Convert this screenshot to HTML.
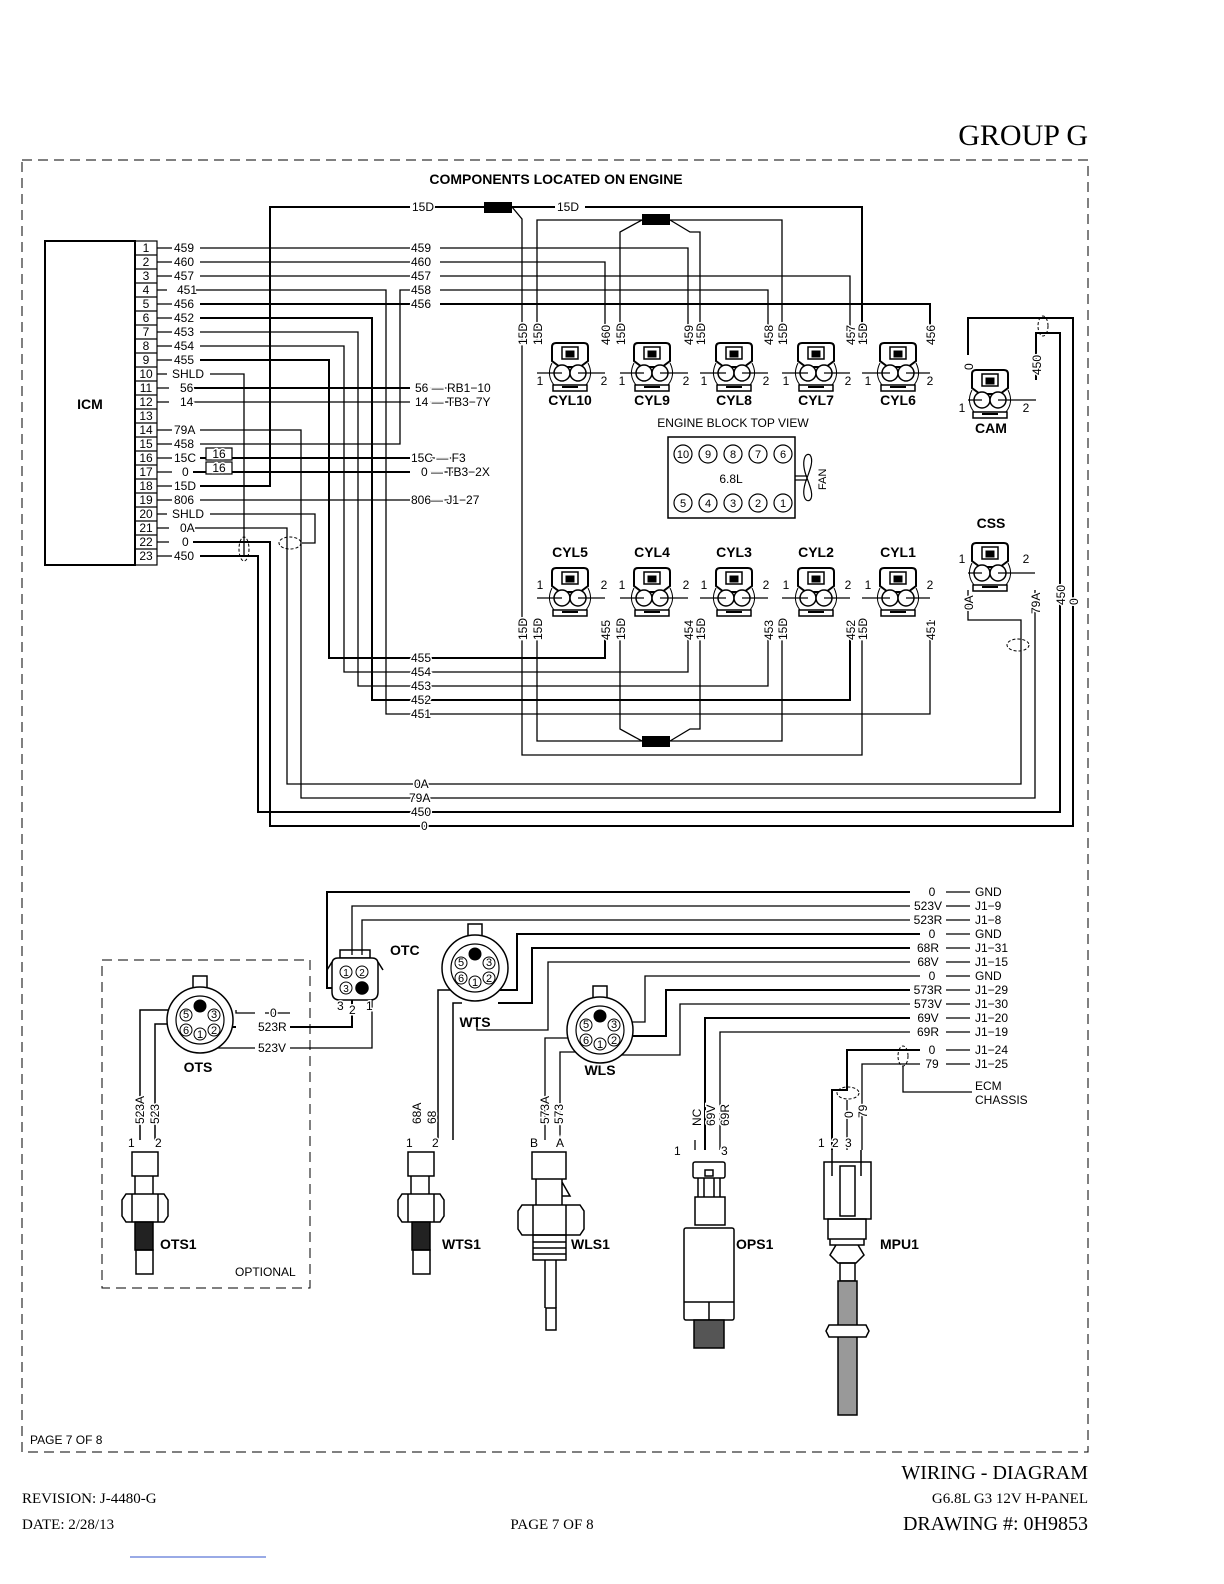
<!DOCTYPE html>
<html><head><meta charset="utf-8"><style>
html,body{margin:0;padding:0;background:#fff;width:1224px;height:1584px;overflow:hidden}
svg{display:block}
text{font-family:"Liberation Sans",sans-serif;fill:#000}
.s{font-size:12px;stroke:#fff;stroke-width:3px;paint-order:stroke fill}
.b{font-size:14px;font-weight:bold}
.sf{font-family:"Liberation Serif",serif}
</style></head><body>
<svg width="1224" height="1584" viewBox="0 0 1224 1584" xmlns="http://www.w3.org/2000/svg">
<defs>
<g id="cn" fill="none" stroke="#000">
 <path d="M-18,-2 Q-24,10 -16,20 M18,-2 Q24,10 16,20" stroke-width="1"/>
 <path d="M-14,-22 h28 q4,0 4,4 v14 l-8,6 h-20 l-8,-6 v-14 q0,-4 4,-4z" stroke-width="2" fill="#fff"/>
 <rect x="-8" y="-18" width="16" height="12" stroke-width="1.5"/>
 <rect x="-4" y="-14" width="8" height="6" fill="#000"/>
 <circle cx="-8" cy="8" r="8" stroke-width="1.5" fill="#fff"/>
 <circle cx="8" cy="8" r="8" stroke-width="1.5" fill="#fff"/>
 <path d="M-17,20 h34 v6 h-34z" stroke-width="1.5"/>
 <path d="M-8,22 h16" stroke-width="2"/>
</g>
<g id="rc" fill="none" stroke="#000">
 <rect x="-7" y="-44" width="14" height="12" stroke-width="1.5" fill="#fff"/>
 <circle r="33" stroke-width="1.5" fill="#fff"/>
 <circle r="24" stroke-width="1.2"/>
 <circle cx="0" cy="-14" r="6" fill="#000"/>
 <circle cx="-14" cy="-5" r="6" stroke-width="1"/><circle cx="14" cy="-5" r="6" stroke-width="1"/>
 <circle cx="-14" cy="10" r="6" stroke-width="1"/><circle cx="14" cy="10" r="6" stroke-width="1"/>
 <circle cx="0" cy="14" r="6" stroke-width="1"/>
</g>
</defs>
<text x="1088" y="145" text-anchor="end" class="sf" font-size="30">GROUP G</text>
<rect x="22" y="160" width="1066" height="1292" fill="none" stroke="#000" stroke-width="1" stroke-dasharray="10,6"/>
<text x="556" y="184" text-anchor="middle" class="b">COMPONENTS LOCATED ON ENGINE</text>

<!-- ICM -->
<rect x="45" y="241" width="90" height="324" fill="none" stroke="#000" stroke-width="2"/>
<text x="90" y="409" text-anchor="middle" class="b">ICM</text>
<g fill="none" stroke="#000" stroke-width="1.2">
<rect x="135" y="241" width="22" height="324"/>
<path d="M135,255h22M135,269h22M135,283h22M135,297h22M135,311h22M135,325h22M135,339h22M135,353h22M135,367h22M135,381h22M135,395h22M135,409h22M135,423h22M135,437h22M135,451h22M135,465h22M135,479h22M135,493h22M135,507h22M135,521h22M135,535h22M135,549h22"/>
</g>
<g fill="none" stroke="#000" stroke-width="1.2">
<path d="M157,248h15M157,262h15M157,276h15M157,290h10M157,304h15M157,318h15M157,332h15M157,346h15M157,360h15M157,374h10M157,388h12M157,402h12M157,430h15M157,444h15M157,458h15M157,472h15M157,486h15M157,500h15M157,514h10M157,528h12M157,542h12M157,556h15"/>
</g>
<!-- top wires -->
<g stroke="#000" stroke-width="1.3" fill="none">
<path d="M200,248H410M440,248H688V340"/>
<path d="M200,262H410M440,262H605V340"/>
<path d="M200,276H410M440,276H850V340"/>
<path d="M193,290H386V714H930V620"/>
<path d="M440,290H768V340M410,290H400V444H200"/>
<path d="M200,304H410M440,304H930V340" stroke-width="2"/>
<path d="M200,318H372V700H850V620" stroke-width="2"/>
<path d="M200,332H358V686H768V620"/>
<path d="M200,346H344V672H688V620"/>
<path d="M200,360H329V658H605V620" stroke-width="2"/>
<path d="M210,374H244V556"/>
<path d="M193,388H410" stroke-width="2"/>
<path d="M193,402H410"/>
<path d="M200,430H301V798H1035V590"/>
<path d="M200,458H410" stroke-width="2"/>
<path d="M193,472H410" stroke-width="2"/>
<path d="M200,486H270V207H410M432,207H484M512,207H555M585,207H862V340" stroke-width="2"/>
<path d="M200,500H410"/>
<path d="M210,514H315V543H302"/>
<path d="M195,528H287V784H1021V620H968V590"/>
<path d="M193,542H270V826H1073V318H968V355" stroke-width="2"/>
<path d="M200,556H258V812H1060V333H1036V380" stroke-width="2"/>
<path d="M512,207l10,12V755H862V620"/>
<path d="M537,340V220H642M670,220H782V340"/>
<path d="M642,220l-22,12V340M670,220l20,12H700V340"/>
<path d="M537,620V741H642M670,741H782V620"/>
<path d="M642,741l-22,-12V620M670,741l20,-12H700V620"/>
<path d="M430,388h30M430,402h30M430,458h30M430,472h30M430,500h30"/>
</g>
<g fill="#fff" stroke="#000" stroke-width="1.2">
<rect x="206" y="448" width="26" height="12"/><rect x="206" y="462" width="26" height="12"/>
</g>
<g class="s" text-anchor="middle">
<text x="146" y="252">1</text><text x="146" y="266">2</text><text x="146" y="280">3</text><text x="146" y="294">4</text><text x="146" y="308">5</text><text x="146" y="322">6</text><text x="146" y="336">7</text><text x="146" y="350">8</text><text x="146" y="364">9</text><text x="146" y="378">10</text><text x="146" y="392">11</text><text x="146" y="406">12</text><text x="146" y="420">13</text><text x="146" y="434">14</text><text x="146" y="448">15</text><text x="146" y="462">16</text><text x="146" y="476">17</text><text x="146" y="490">18</text><text x="146" y="504">19</text><text x="146" y="518">20</text><text x="146" y="532">21</text><text x="146" y="546">22</text><text x="146" y="560">23</text>
<text x="219" y="458">16</text><text x="219" y="472">16</text>
</g>
<g class="s">
<text x="174" y="252">459</text><text x="174" y="266">460</text><text x="174" y="280">457</text><text x="177" y="294">451</text><text x="174" y="308">456</text><text x="174" y="322">452</text><text x="174" y="336">453</text><text x="174" y="350">454</text><text x="174" y="364">455</text><text x="172" y="378">SHLD</text><text x="180" y="392">56</text><text x="180" y="406">14</text><text x="174" y="434">79A</text><text x="174" y="448">458</text><text x="174" y="462">15C</text><text x="182" y="476">0</text><text x="174" y="490">15D</text><text x="174" y="504">806</text><text x="172" y="518">SHLD</text><text x="180" y="532">0A</text><text x="182" y="546">0</text><text x="174" y="560">450</text>
</g>
<rect x="484" y="202" width="28" height="11" fill="#000"/>
<rect x="642" y="214" width="28" height="11" fill="#000"/>
<rect x="642" y="736" width="28" height="11" fill="#000"/>
<g fill="none" stroke="#000" stroke-width="1" stroke-dasharray="3,2">
<ellipse cx="244" cy="549" rx="5" ry="12"/><ellipse cx="290" cy="543" rx="11" ry="6"/>
<ellipse cx="1043" cy="326" rx="5" ry="10"/><ellipse cx="1018" cy="645" rx="11" ry="6"/>
<ellipse cx="903" cy="1056" rx="5" ry="10"/><ellipse cx="848" cy="1093" rx="11" ry="6"/>
</g>
<g class="s">
<text x="412" y="211">15D</text><text x="557" y="211">15D</text>
<text x="411" y="252">459</text><text x="411" y="266">460</text><text x="411" y="280">457</text><text x="411" y="294">458</text><text x="411" y="308">456</text>
<text x="415" y="392">56 — RB1−10</text><text x="415" y="406">14 — TB3−7Y</text>
<text x="411" y="462">15C — F3</text><text x="421" y="476">0 — TB3−2X</text><text x="411" y="504">806— J1−27</text>
<text x="411" y="662">455</text><text x="411" y="676">454</text><text x="411" y="690">453</text><text x="411" y="704">452</text><text x="411" y="718">451</text>
<text x="414" y="788">0A</text><text x="409" y="802">79A</text><text x="411" y="816">450</text><text x="421" y="830">0</text>
</g>
<!-- connectors -->
<g>
<use href="#cn" x="570" y="365"/><use href="#cn" x="652" y="365"/><use href="#cn" x="734" y="365"/><use href="#cn" x="816" y="365"/><use href="#cn" x="898" y="365"/>
<use href="#cn" x="570" y="590"/><use href="#cn" x="652" y="590"/><use href="#cn" x="734" y="590"/><use href="#cn" x="816" y="590"/><use href="#cn" x="898" y="590"/>
<use href="#cn" x="990" y="392"/><use href="#cn" x="990" y="565"/>
</g>
<g stroke="#000" stroke-width="1.2" fill="none">
<path d="M537,373H562M578,373H605M620,373H644M660,373H688M700,373H726M742,373H768M782,373H808M824,373H850M862,373H890M906,373H930M968,400H982M998,400H1036"/>
<path d="M537,598H562M578,598H605M620,598H644M660,598H688M700,598H726M742,598H768M782,598H808M824,598H850M862,598H890M906,598H930M968,573H982M998,573H1035"/>
</g>
<g class="b" text-anchor="middle">
<text x="570" y="405">CYL10</text><text x="652" y="405">CYL9</text><text x="734" y="405">CYL8</text><text x="816" y="405">CYL7</text><text x="898" y="405">CYL6</text>
<text x="570" y="557">CYL5</text><text x="652" y="557">CYL4</text><text x="734" y="557">CYL3</text><text x="816" y="557">CYL2</text><text x="898" y="557">CYL1</text>
<text x="991" y="433">CAM</text><text x="991" y="528">CSS</text>
</g>
<g class="s" text-anchor="middle">
<text x="540" y="385">1</text><text x="604" y="385">2</text><text x="622" y="385">1</text><text x="686" y="385">2</text><text x="704" y="385">1</text><text x="766" y="385">2</text><text x="786" y="385">1</text><text x="848" y="385">2</text><text x="868" y="385">1</text><text x="930" y="385">2</text>
<text x="540" y="589">1</text><text x="604" y="589">2</text><text x="622" y="589">1</text><text x="686" y="589">2</text><text x="704" y="589">1</text><text x="766" y="589">2</text><text x="786" y="589">1</text><text x="848" y="589">2</text><text x="868" y="589">1</text><text x="930" y="589">2</text>
<text x="962" y="412">1</text><text x="1026" y="412">2</text><text x="962" y="563">1</text><text x="1026" y="563">2</text>
</g>
<g class="s">
<text transform="translate(527,345) rotate(-90)">15D</text>
<text transform="translate(542,345) rotate(-90)">15D</text>
<text transform="translate(610,345) rotate(-90)">460</text>
<text transform="translate(625,345) rotate(-90)">15D</text>
<text transform="translate(693,345) rotate(-90)">459</text>
<text transform="translate(705,345) rotate(-90)">15D</text>
<text transform="translate(773,345) rotate(-90)">458</text>
<text transform="translate(787,345) rotate(-90)">15D</text>
<text transform="translate(855,345) rotate(-90)">457</text>
<text transform="translate(867,345) rotate(-90)">15D</text>
<text transform="translate(935,345) rotate(-90)">456</text>
<text transform="translate(973,370) rotate(-90)">0</text>
<text transform="translate(1041,375) rotate(-90)">450</text>
<text transform="translate(527,640) rotate(-90)">15D</text>
<text transform="translate(542,640) rotate(-90)">15D</text>
<text transform="translate(610,640) rotate(-90)">455</text>
<text transform="translate(625,640) rotate(-90)">15D</text>
<text transform="translate(693,640) rotate(-90)">454</text>
<text transform="translate(705,640) rotate(-90)">15D</text>
<text transform="translate(773,640) rotate(-90)">453</text>
<text transform="translate(787,640) rotate(-90)">15D</text>
<text transform="translate(855,640) rotate(-90)">452</text>
<text transform="translate(867,640) rotate(-90)">15D</text>
<text transform="translate(935,640) rotate(-90)">451</text>
<text transform="translate(973,610) rotate(-90)">0A</text>
<text transform="translate(1040,614) rotate(-90)">79A</text>
<text transform="translate(1065,605) rotate(-90)">450</text>
<text transform="translate(1078,605) rotate(-90)">0</text>
</g>
<!-- engine block -->
<text x="733" y="427" text-anchor="middle" font-size="12">ENGINE BLOCK TOP VIEW</text>
<rect x="668" y="437" width="127" height="81" fill="none" stroke="#000" stroke-width="1.5"/>
<g fill="none" stroke="#000" stroke-width="1.2">
<circle cx="683" cy="454" r="9"/><circle cx="708" cy="454" r="9"/><circle cx="733" cy="454" r="9"/><circle cx="758" cy="454" r="9"/><circle cx="783" cy="454" r="9"/>
<circle cx="683" cy="503" r="9"/><circle cx="708" cy="503" r="9"/><circle cx="733" cy="503" r="9"/><circle cx="758" cy="503" r="9"/><circle cx="783" cy="503" r="9"/>
<path d="M795,476h12M795,480h12M807,478 C800,460 806,452 810,455 C814,460 810,470 807,478 C810,486 814,496 810,500 C806,503 800,496 807,478"/>
</g>
<g font-size="11" text-anchor="middle">
<text x="683" y="458">10</text><text x="708" y="458">9</text><text x="733" y="458">8</text><text x="758" y="458">7</text><text x="783" y="458">6</text>
<text x="683" y="507">5</text><text x="708" y="507">4</text><text x="733" y="507">3</text><text x="758" y="507">2</text><text x="783" y="507">1</text>
</g>
<text x="731" y="483" text-anchor="middle" font-size="12">6.8L</text>
<text transform="translate(826,490) rotate(-90)" font-size="11">FAN</text>

<!-- bottom section wires -->
<g stroke="#000" stroke-width="1.3" fill="none">
<path d="M910,892H327V988H340" stroke-width="2"/>
<path d="M910,906H352V955"/>
<path d="M910,920H362V955"/>
<path d="M920,934H517V990H494" stroke-width="2"/>
<path d="M910,948H532V1003H498" stroke-width="2"/>
<path d="M910,962H548V1030H477V1017"/>
<path d="M920,976H645V1022H620"/>
<path d="M910,990H666V1036H624" stroke-width="2"/>
<path d="M910,1004H680V1055H601V1045"/>
<path d="M910,1018H705V1150" stroke-width="2"/>
<path d="M910,1032H720V1150"/>
<path d="M920,1050H847V1090H832V1150" stroke-width="2"/>
<path d="M920,1064H862V1150"/>
<path d="M903,1066V1092H972"/>
<path d="M946,892h24M946,906h24M946,920h24M946,934h24M946,948h24M946,962h24M946,976h24M946,990h24M946,1004h24M946,1018h24M946,1032h24M946,1050h24M946,1064h24"/>
<path d="M847,1100V1150"/>
<path d="M290,1013H265M255,1013H236V1010"/>
<path d="M290,1027H352V1000" stroke-width="2"/>
<path d="M290,1048H372V1000"/>
<path d="M227,1027H236" stroke-width="2"/>
<path d="M200,1035V1048H255"/>
<path d="M186,1010H140V1140M185,1024H155V1140" stroke-width="1.5"/>
<path d="M461,990H438V1140M462,1003H453V1140" stroke-width="1.5"/>
<path d="M586,1052H560V1140"/>
<path d="M586,1038H545V1140"/>
<path d="M695,1150V1140"/>
</g>
<g class="s">
<text x="932" y="896" text-anchor="middle">0</text><text x="928" y="910" text-anchor="middle">523V</text><text x="928" y="924" text-anchor="middle">523R</text><text x="932" y="938" text-anchor="middle">0</text><text x="928" y="952" text-anchor="middle">68R</text><text x="928" y="966" text-anchor="middle">68V</text><text x="932" y="980" text-anchor="middle">0</text><text x="928" y="994" text-anchor="middle">573R</text><text x="928" y="1008" text-anchor="middle">573V</text><text x="928" y="1022" text-anchor="middle">69V</text><text x="928" y="1036" text-anchor="middle">69R</text><text x="932" y="1054" text-anchor="middle">0</text><text x="932" y="1068" text-anchor="middle">79</text>
<text x="975" y="896">GND</text><text x="975" y="910">J1−9</text><text x="975" y="924">J1−8</text><text x="975" y="938">GND</text><text x="975" y="952">J1−31</text><text x="975" y="966">J1−15</text><text x="975" y="980">GND</text><text x="975" y="994">J1−29</text><text x="975" y="1008">J1−30</text><text x="975" y="1022">J1−20</text><text x="975" y="1036">J1−19</text><text x="975" y="1054">J1−24</text><text x="975" y="1068">J1−25</text>
<text x="975" y="1090">ECM</text><text x="975" y="1104">CHASSIS</text>
<text x="270" y="1017">0</text><text x="258" y="1031">523R</text><text x="258" y="1052">523V</text>
</g>
<!-- OTC -->
<g fill="none" stroke="#000" stroke-width="1.5">
<path d="M340,950h30v8h-30z"/>
<path d="M338,958h34q6,0 6,6v28q0,8 -8,8h-30q-8,0 -8,-8v-28q0,-6 6,-6z" fill="#fff"/>
<path d="M332,962l-5,8M378,962l5,8"/>
<circle cx="346" cy="972" r="6" stroke-width="1"/><circle cx="362" cy="972" r="6" stroke-width="1"/>
<circle cx="346" cy="988" r="6" stroke-width="1"/><circle cx="362" cy="988" r="6" fill="#000"/>
</g>
<g font-size="10" text-anchor="middle"><text x="346" y="976">1</text><text x="362" y="976">2</text><text x="346" y="992">3</text></g>
<g class="s"><text x="337" y="1010">3</text><text x="349" y="1014">2</text><text x="366" y="1010">1</text></g>
<text x="390" y="955" class="b">OTC</text>
<use href="#rc" x="200" y="1020"/><use href="#rc" x="475" y="968"/><use href="#rc" x="600" y="1030"/>
<g font-size="11" text-anchor="middle">
<text x="186" y="1018">5</text><text x="214" y="1018">3</text><text x="186" y="1034">6</text><text x="214" y="1034">2</text><text x="200" y="1038">1</text>
<text x="461" y="966">5</text><text x="489" y="966">3</text><text x="461" y="982">6</text><text x="489" y="982">2</text><text x="475" y="986">1</text>
<text x="586" y="1028">5</text><text x="614" y="1028">3</text><text x="586" y="1044">6</text><text x="614" y="1044">2</text><text x="600" y="1048">1</text>
</g>
<g class="b" text-anchor="middle"><text x="198" y="1072">OTS</text><text x="475" y="1027">WTS</text><text x="600" y="1075">WLS</text></g>
<rect x="102" y="960" width="208" height="328" fill="none" stroke="#000" stroke-dasharray="10,6"/>
<text x="235" y="1276" font-size="12">OPTIONAL</text>
<g class="s">
<text transform="translate(144,1124) rotate(-90)">523A</text><text transform="translate(159,1124) rotate(-90)">523</text>
<text transform="translate(421,1124) rotate(-90)">68A</text><text transform="translate(436,1124) rotate(-90)">68</text>
<text transform="translate(549,1124) rotate(-90)">573A</text><text transform="translate(563,1124) rotate(-90)">573</text>
<text transform="translate(701,1126) rotate(-90)">NC</text><text transform="translate(715,1126) rotate(-90)">69V</text><text transform="translate(729,1126) rotate(-90)">69R</text>
<text transform="translate(853,1118) rotate(-90)">0</text><text transform="translate(867,1118) rotate(-90)">79</text>
<text x="128" y="1147">1</text><text x="155" y="1147">2</text><text x="406" y="1147">1</text><text x="432" y="1147">2</text><text x="530" y="1147">B</text><text x="556" y="1147">A</text>
<text x="674" y="1155">1</text><text x="721" y="1155">3</text><text x="818" y="1147">1</text><text x="832" y="1147">2</text><text x="845" y="1147">3</text>
</g>
<g class="b"><text x="160" y="1249">OTS1</text><text x="442" y="1249">WTS1</text><text x="571" y="1249">WLS1</text><text x="736" y="1249">OPS1</text><text x="880" y="1249">MPU1</text></g>
<!-- sensors -->
<g fill="none" stroke="#000" stroke-width="1.5">
<rect x="132" y="1152" width="26" height="24" fill="#fff"/>
<path d="M135,1176v18M153,1176v18"/>
<path d="M126,1194h38l4,6v16l-4,6h-38l-4,-6v-16z M132,1194v28M158,1194v28"/>
<rect x="135" y="1222" width="18" height="28" fill="#222"/>
<rect x="136" y="1250" width="17" height="24"/>
<rect x="408" y="1152" width="26" height="24" fill="#fff"/>
<path d="M411,1176v18M429,1176v18"/>
<path d="M402,1194h38l4,6v16l-4,6h-38l-4,-6v-16z M408,1194v28M434,1194v28"/>
<rect x="412" y="1222" width="18" height="28" fill="#222"/>
<rect x="413" y="1250" width="17" height="24"/>
<rect x="532" y="1152" width="34" height="27" fill="#fff"/>
<path d="M536,1179v26M562,1179v26M562,1182l8,14h-8"/>
<path d="M522,1205h58l4,6v18l-4,6h-58l-4,-6v-18z M533,1205v30M566,1205v30"/>
<rect x="533" y="1235" width="33" height="25"/>
<path d="M533,1242h33M533,1248h33M533,1254h33"/>
<path d="M545,1260v48M556,1260v48"/><rect x="546" y="1308" width="10" height="22"/>
<rect x="693" y="1162" width="32" height="16" rx="2" fill="#fff"/><rect x="705" y="1170" width="8" height="6"/>
<path d="M698,1178v19M720,1178v19M704,1178v19M714,1178v19"/>
<rect x="695" y="1197" width="30" height="28"/>
<rect x="684" y="1228" width="50" height="92" rx="2"/>
<path d="M684,1302h50M709,1302v18"/>
<rect x="694" y="1320" width="30" height="28" fill="#555"/>
<rect x="824" y="1162" width="47" height="57" fill="#fff"/>
<rect x="840" y="1166" width="15" height="50"/>
<path d="M832,1150v26M861,1150v26"/>
<rect x="828" y="1219" width="38" height="20"/>
<path d="M830,1239v6h34v-6M836,1245l-6,10l8,8h18l8,-8l-6,-10"/>
<rect x="840" y="1263" width="15" height="18"/>
<rect x="838" y="1281" width="19" height="134" fill="#999"/>
<path d="M829,1325h37l3,6l-3,6h-37l-3,-6z" fill="#fff"/>
</g>
<text x="30" y="1444" font-size="12">PAGE 7 OF 8</text>
<text x="1088" y="1479" text-anchor="end" class="sf" font-size="20">WIRING - DIAGRAM</text>
<text x="1088" y="1503" text-anchor="end" class="sf" font-size="15">G6.8L G3 12V H-PANEL</text>
<text x="22" y="1503" class="sf" font-size="15">REVISION: J-4480-G</text>
<text x="22" y="1529" class="sf" font-size="15">DATE: 2/28/13</text>
<text x="552" y="1529" text-anchor="middle" class="sf" font-size="15">PAGE 7 OF 8</text>
<text x="1088" y="1530" text-anchor="end" class="sf" font-size="20">DRAWING #: 0H9853</text>
<line x1="130" y1="1557" x2="266" y2="1557" stroke="#3355cc" stroke-width="1"/>
</svg>
</body></html>
